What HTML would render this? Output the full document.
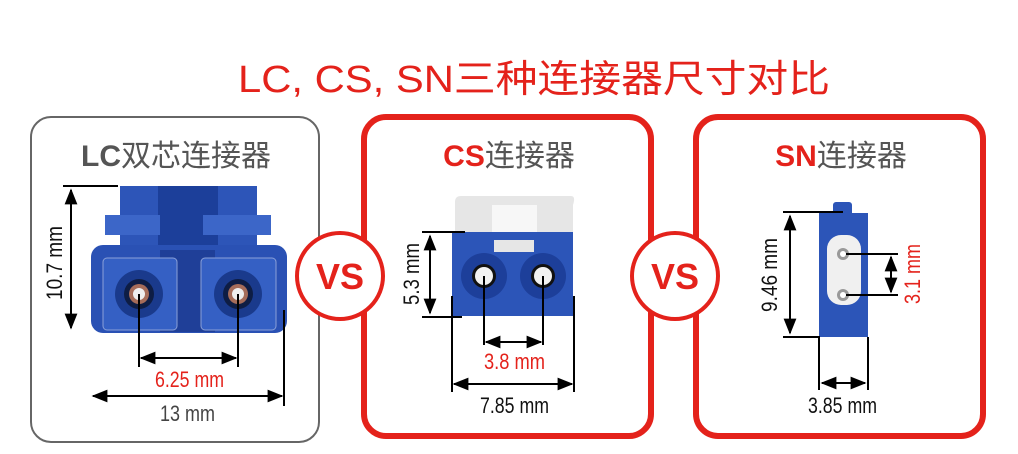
<!DOCTYPE html>
<html><head><meta charset="utf-8"><style>
html,body{margin:0;padding:0;background:#fff;width:1018px;height:454px;overflow:hidden}
svg text{font-family:"Liberation Sans","Noto Sans CJK SC",sans-serif}
.d{font-family:"Liberation Sans Narrow","Liberation Sans",sans-serif;font-size:22px}
</style></head><body>
<svg width="1018" height="454" viewBox="0 0 1018 454" xmlns="http://www.w3.org/2000/svg">
<defs>
<marker id="a" viewBox="0 0 10 10" refX="9" refY="5" markerWidth="8" markerHeight="8" orient="auto-start-reverse"><path d="M0,1 L10,5 L0,9 z" fill="#000"/></marker>
</defs>
<text x="238" y="92" font-size="38" fill="#e4221b" textLength="592" lengthAdjust="spacingAndGlyphs">LC, CS, SN三种连接器尺寸对比</text>

<rect x="31" y="117" width="288" height="325" rx="20" fill="#fff" stroke="#666" stroke-width="2"/>
<rect x="364" y="117" width="287" height="319" rx="22" fill="#fff" stroke="#e4221b" stroke-width="6"/>
<rect x="696" y="117" width="287" height="319" rx="22" fill="#fff" stroke="#e4221b" stroke-width="6"/>

<circle cx="340" cy="276" r="43" fill="#fff" stroke="#e4221b" stroke-width="4"/>
<text x="340" y="289" font-size="36" font-weight="bold" fill="#e4221b" text-anchor="middle">VS</text>
<circle cx="675" cy="276" r="43" fill="#fff" stroke="#e4221b" stroke-width="4"/>
<text x="675" y="289" font-size="36" font-weight="bold" fill="#e4221b" text-anchor="middle">VS</text>

<text x="176" y="166" font-size="30" fill="#555" text-anchor="middle"><tspan font-weight="bold">LC</tspan>双芯连接器</text>
<text x="509" y="166" font-size="30" fill="#555" text-anchor="middle"><tspan font-weight="bold" fill="#e4221b">CS</tspan>连接器</text>
<text x="841" y="166" font-size="30" fill="#555" text-anchor="middle"><tspan font-weight="bold" fill="#e4221b">SN</tspan>连接器</text>

<rect x="120" y="186" width="137" height="70" fill="#2d55b8"/>
<rect x="158" y="186" width="60" height="80" fill="#1c3f9a"/>
<rect x="105" y="215" width="55" height="20" fill="#3c66c8"/>
<rect x="203" y="215" width="68" height="20" fill="#3c66c8"/>
<rect x="91" y="245" width="196" height="88" rx="12" fill="#2a51b4"/>
<rect x="160" y="250" width="55" height="82" fill="#1f3f98"/>
<rect x="103" y="258" width="74" height="72" rx="4" fill="#3560c4" stroke="#8aa0d8" stroke-width="1"/>
<rect x="201" y="258" width="75" height="72" rx="4" fill="#3560c4" stroke="#8aa0d8" stroke-width="1"/>
<circle cx="139" cy="294" r="24" fill="#1a3a8c"/>
<circle cx="238" cy="294" r="24" fill="#1a3a8c"/>
<circle cx="139" cy="294" r="15" fill="#0e1d44"/>
<circle cx="238" cy="294" r="15" fill="#0e1d44"/>
<circle cx="139" cy="294" r="10" fill="#a66d5a"/>
<circle cx="238" cy="294" r="10" fill="#a66d5a"/>
<circle cx="139" cy="294" r="6" fill="#eee"/>
<circle cx="238" cy="294" r="6" fill="#eee"/>
<g stroke="#000" stroke-width="2" fill="none">
<line x1="63" y1="186" x2="118" y2="186"/>
<line x1="71" y1="190" x2="71" y2="328" marker-start="url(#a)" marker-end="url(#a)"/>
<line x1="139" y1="294" x2="139" y2="367"/>
<line x1="238" y1="294" x2="238" y2="367"/>
<line x1="141" y1="358" x2="236" y2="358" marker-start="url(#a)" marker-end="url(#a)"/>
<line x1="284" y1="310" x2="284" y2="406"/>
<line x1="93" y1="396" x2="282" y2="396" marker-start="url(#a)" marker-end="url(#a)"/>
</g>
<text class="d" transform="translate(62,226) rotate(-90)" text-anchor="end" fill="#111" textLength="74" lengthAdjust="spacingAndGlyphs">10.7 mm</text>
<text class="d" x="155" y="387" fill="#e4221b" textLength="69" lengthAdjust="spacingAndGlyphs">6.25 mm</text>
<text class="d" x="160" y="421" fill="#444" textLength="55" lengthAdjust="spacingAndGlyphs">13 mm</text>

<path d="M455,202 Q455,196 461,196 L571,196 Q576,196 573,205 L573,240 L455,240 Z" fill="#e6e6e6"/>
<rect x="492" y="205" width="45" height="45" fill="#f7f7f7"/>
<rect x="452" y="232" width="121" height="84" fill="#2c55b8"/>
<rect x="494" y="240" width="40" height="12" fill="#e6e6e6"/>
<circle cx="484" cy="276" r="23" fill="#1d3f9a"/>
<circle cx="543" cy="276" r="23" fill="#1d3f9a"/>
<circle cx="484" cy="276" r="12" fill="#111"/>
<circle cx="543" cy="276" r="12" fill="#111"/>
<circle cx="484" cy="276" r="9" fill="#f2f2f2"/>
<circle cx="543" cy="276" r="9" fill="#f2f2f2"/>
<g stroke="#000" stroke-width="2" fill="none">
<line x1="422" y1="232" x2="465" y2="232"/>
<line x1="422" y1="317" x2="462" y2="317"/>
<line x1="430" y1="236" x2="430" y2="313" marker-start="url(#a)" marker-end="url(#a)"/>
<line x1="484" y1="276" x2="484" y2="345"/>
<line x1="543" y1="276" x2="543" y2="345"/>
<line x1="486" y1="342" x2="541" y2="342" marker-start="url(#a)" marker-end="url(#a)"/>
<line x1="452" y1="296" x2="452" y2="392"/>
<line x1="574" y1="296" x2="574" y2="392"/>
<line x1="454" y1="384" x2="572" y2="384" marker-start="url(#a)" marker-end="url(#a)"/>
</g>
<text class="d" transform="translate(419,243) rotate(-90)" text-anchor="end" fill="#111" textLength="62" lengthAdjust="spacingAndGlyphs">5.3 mm</text>
<text class="d" x="484" y="369" fill="#e4221b" textLength="61" lengthAdjust="spacingAndGlyphs">3.8 mm</text>
<text class="d" x="480" y="413" fill="#111" textLength="69" lengthAdjust="spacingAndGlyphs">7.85 mm</text>

<rect x="833" y="202" width="19" height="14" rx="3" fill="#2c55b8"/>
<rect x="819" y="213" width="49" height="124" fill="#2c55b8"/>
<rect x="827" y="235" width="34" height="70" rx="14" fill="#f0f0f0"/>
<circle cx="843" cy="254" r="6" fill="#999"/><circle cx="843" cy="254" r="3" fill="#fff"/>
<circle cx="843" cy="295" r="6" fill="#999"/><circle cx="843" cy="295" r="3" fill="#fff"/>
<g stroke="#000" stroke-width="2" fill="none">
<line x1="783" y1="212" x2="843" y2="212"/>
<line x1="783" y1="337" x2="820" y2="337"/>
<line x1="790" y1="216" x2="790" y2="333" marker-start="url(#a)" marker-end="url(#a)"/>
<line x1="846" y1="254" x2="898" y2="254"/>
<line x1="846" y1="295" x2="898" y2="295"/>
<line x1="891" y1="257" x2="891" y2="292" marker-start="url(#a)" marker-end="url(#a)"/>
<line x1="819" y1="337" x2="819" y2="390"/>
<line x1="868" y1="337" x2="868" y2="390"/>
<line x1="822" y1="383" x2="865" y2="383" marker-start="url(#a)" marker-end="url(#a)"/>
</g>
<text class="d" transform="translate(777,238) rotate(-90)" text-anchor="end" fill="#111" textLength="74" lengthAdjust="spacingAndGlyphs">9.46 mm</text>
<text class="d" transform="translate(920,244) rotate(-90)" text-anchor="end" fill="#e4221b" textLength="60" lengthAdjust="spacingAndGlyphs">3.1 mm</text>
<text class="d" x="808" y="413" fill="#111" textLength="69" lengthAdjust="spacingAndGlyphs">3.85 mm</text>
</svg>
</body></html>
